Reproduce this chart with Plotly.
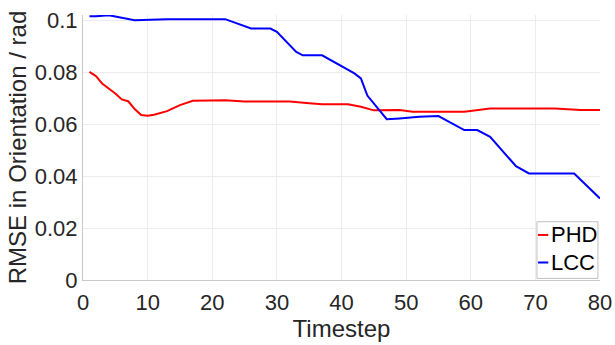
import plotly.graph_objects as go

# Timesteps and RMSE in orientation (rad) per tracker
phd_t = [1, 2, 3, 4, 5, 6, 7, 8, 9, 10, 11, 13, 15, 17, 22, 25, 32, 35, 37, 41, 43, 45, 49, 51, 59, 63, 73, 77, 80]
phd_rmse = [0.0801, 0.0785, 0.0755, 0.0737, 0.0718, 0.0695, 0.0688, 0.0658, 0.0635, 0.0632, 0.0636, 0.0650, 0.0673, 0.0690, 0.0692, 0.0687, 0.0687, 0.0680, 0.0676, 0.0676, 0.0667, 0.0653, 0.0654, 0.0648, 0.0648, 0.0660, 0.0660, 0.0654, 0.0654]

lcc_t = [1, 2, 4, 6, 8, 13, 22, 26, 29, 30, 33, 34, 37, 42, 43, 44, 46, 47, 49, 52, 55, 59, 61, 63, 67, 69, 76, 80]
lcc_rmse = [0.1015, 0.1015, 0.1019, 0.1010, 0.1000, 0.1004, 0.1004, 0.0968, 0.0968, 0.0955, 0.0878, 0.0865, 0.0865, 0.0795, 0.0776, 0.0710, 0.0647, 0.0619, 0.0622, 0.0628, 0.0631, 0.0577, 0.0577, 0.0551, 0.0438, 0.0410, 0.0410, 0.0314]

series_names = ["PHD", "LCC"]
series_colors = ["#ff0000", "#0000ff"]

x_ticks = [0, 10, 20, 30, 40, 50, 60, 70, 80]
y_ticks = [0, 0.02, 0.04, 0.06, 0.08, 0.1]
y_tick_text = ["0", "0.02", "0.04", "0.06", "0.08", "0.1"]

font_family = "Liberation Sans, Arial, Helvetica, sans-serif"
axis_color = "#262626"

fig = go.Figure()
for name, color, t, v in zip(series_names, series_colors, [phd_t, lcc_t], [phd_rmse, lcc_rmse]):
    fig.add_trace(go.Scatter(x=t, y=v, mode="lines", name=name,
                             line=dict(color=color, width=2), showlegend=False))

# Compact legend box in the lower-right corner (paper coordinates)
fig.add_shape(type="rect", xref="paper", yref="paper",
              x0=0.878, x1=0.996, y0=0.006, y1=0.220,
              line=dict(color="#c0c0c0", width=1), fillcolor="white", layer="above")
legend_rows = [0.170, 0.066]
for name, color, yy in zip(series_names, series_colors, legend_rows):
    fig.add_shape(type="line", xref="paper", yref="paper",
                  x0=0.880, x1=0.900, y0=yy, y1=yy,
                  line=dict(color=color, width=2), layer="above")
    fig.add_annotation(xref="paper", yref="paper", x=0.901, y=yy,
                       xanchor="left", yanchor="middle", text=name, showarrow=False,
                       font=dict(size=22, color="black", family=font_family))

fig.update_layout(
    width=615, height=345,
    margin=dict(l=83, r=15, t=15, b=65),
    paper_bgcolor="white", plot_bgcolor="white",
    font=dict(family=font_family, size=22, color=axis_color),
)

fig.update_xaxes(
    range=[0, 80], tickvals=x_ticks, automargin=False,
    showgrid=True, gridcolor="#ececec", gridwidth=1,
    showline=True, linecolor="#c8c8c8", linewidth=1,
    ticks="outside", ticklen=3, tickcolor="rgba(0,0,0,0)", zeroline=False,
    tickfont=dict(size=22, color=axis_color),
    title=dict(text="Timestep", font=dict(size=24, color=axis_color), standoff=5),
)
fig.update_yaxes(
    range=[0, 0.102], tickvals=y_ticks, ticktext=y_tick_text, automargin=False,
    showgrid=True, gridcolor="#ececec", gridwidth=1,
    showline=True, linecolor="#c8c8c8", linewidth=1,
    ticks="", zeroline=False,
    tickfont=dict(size=22, color=axis_color),
    title=dict(text="RMSE in Orientation / rad", font=dict(size=24, color=axis_color), standoff=1),
)

fig.write_html("out.html")
